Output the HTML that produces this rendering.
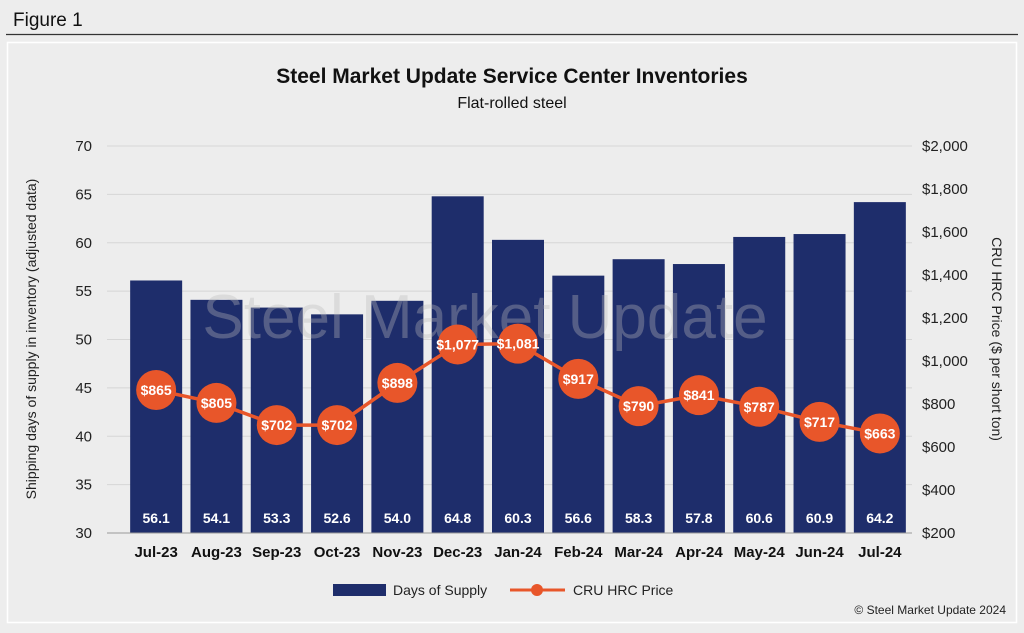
<!DOCTYPE html>
<html><head><meta charset="utf-8"><style>
body{margin:0;background:#ededed;font-family:"Liberation Sans",sans-serif;}
#wrap{position:relative;width:1024px;height:633px;overflow:hidden;background:#ededed}
</style></head><body>
<div id="wrap">
<svg id="chart" width="1024" height="633" xmlns="http://www.w3.org/2000/svg">
<text x="13" y="26" font-size="19" fill="#111">Figure 1</text>
<line x1="6" y1="34.5" x2="1018" y2="34.5" stroke="#333" stroke-width="1.2"/>
<rect x="7.5" y="42.5" width="1009" height="580" fill="#ededed" stroke="#fff" stroke-width="1.5"/>
<text x="512" y="83" font-size="21" font-weight="bold" text-anchor="middle" fill="#111">Steel Market Update Service Center Inventories</text>
<text x="512" y="108" font-size="16" text-anchor="middle" fill="#111">Flat-rolled steel</text>
<g id="grid"></g>
<g id="bars"></g>
<text x="485" y="338" font-size="62" text-anchor="middle" fill="#bbb" opacity="0.35">Steel Market Update</text>
<g id="line"></g><g id="axes"></g>
<text transform="translate(36,339) rotate(-90)" font-size="14" text-anchor="middle" fill="#222">Shipping days of supply in inventory (adjusted data)</text>
<text transform="translate(992,339) rotate(90)" font-size="14" text-anchor="middle" fill="#222">CRU HRC Price ($ per short ton)</text>
<g>
<rect x="333" y="584" width="53" height="12" fill="#1e2d6b"/>
<text x="393" y="595" font-size="14" fill="#222">Days of Supply</text>
<line x1="510" y1="590" x2="565" y2="590" stroke="#e8562a" stroke-width="3"/>
<circle cx="537" cy="590" r="6" fill="#e8562a"/>
<text x="573" y="595" font-size="14" fill="#222">CRU HRC Price</text>
</g>
<text x="1006" y="614" font-size="12" text-anchor="end" fill="#222">© Steel Market Update 2024</text>
</svg>
</div>
<script>
const categories=["Jul-23","Aug-23","Sep-23","Oct-23","Nov-23","Dec-23","Jan-24","Feb-24","Mar-24","Apr-24","May-24","Jun-24","Jul-24"];
const daysSupply=[56.1,54.1,53.3,52.6,54.0,64.8,60.3,56.6,58.3,57.8,60.6,60.9,64.2];
const hrcPrice=[865,805,702,702,898,1077,1081,917,790,841,787,717,663];
const leftTicks=[30,35,40,45,50,55,60,65,70];
const rightTicks=[200,400,600,800,1000,1200,1400,1600,1800,2000];
const NS="http://www.w3.org/2000/svg";
const yTop=146,bot=533,xl=126,xr=910,band=(xr-xl)/categories.length;
const yL=v=>bot-(v-30)/40*(bot-yTop);
const yR=v=>bot-(v-200)/1800*(bot-yTop);
const xC=i=>xl+(i+0.5)*band;
function mk(tag,attrs,parent,text){const e=document.createElementNS(NS,tag);for(const k in attrs)e.setAttribute(k,attrs[k]);if(text!==undefined)e.textContent=text;parent.appendChild(e);return e;}
const G=document.getElementById('grid'),B=document.getElementById('bars'),L=document.getElementById('line'),A=document.getElementById('axes');
leftTicks.forEach(t=>{
 const ln=mk('line',{x1:107,x2:912,y1:yL(t),y2:yL(t),stroke:'#d6d6d6','stroke-width':1},G);
 
 
 const tx=mk('text',{x:92,y:yL(t)+5,'font-size':15,'text-anchor':'end',fill:'#222'},A,String(t));
 
 
});
rightTicks.forEach(t=>{
 const tx=mk('text',{x:922,y:yR(t)+5,'font-size':15,fill:'#222'},A,'$'+t.toLocaleString('en-US'));
 
 
});
const bw=52;
daysSupply.forEach((v,i)=>{
 const r=mk('rect',{x:xC(i)-bw/2,y:yL(v),width:bw,height:bot-yL(v),fill:'#1e2d6b'},B);
 
 
 const t=mk('text',{x:xC(i),y:523,'font-size':14,'font-weight':'bold','text-anchor':'middle',fill:'#fff'},B,v.toFixed(1));
 
 
 const c=mk('text',{x:xC(i),y:557,'font-size':15,'font-weight':'bold','text-anchor':'middle',fill:'#111'},A,categories[i]);
 
 
});
const ax=mk('line',{x1:107,x2:912,y1:bot,y2:bot,stroke:'#999','stroke-width':1},A);


const pl=mk('polyline',{points:hrcPrice.map((v,i)=>xC(i)+','+yR(v)).join(' '),fill:'none',stroke:'#e8562a','stroke-width':3.5},L);


hrcPrice.forEach((v,i)=>{
 const c=mk('circle',{cx:xC(i),cy:yR(v),r:20,fill:'#e8562a'},L);
 
 
 const t=mk('text',{x:xC(i),y:yR(v)+5,'font-size':14,'font-weight':'bold','text-anchor':'middle',fill:'#fff'},L,'$'+v.toLocaleString('en-US'));
 
 
});
</script>
</body></html>
